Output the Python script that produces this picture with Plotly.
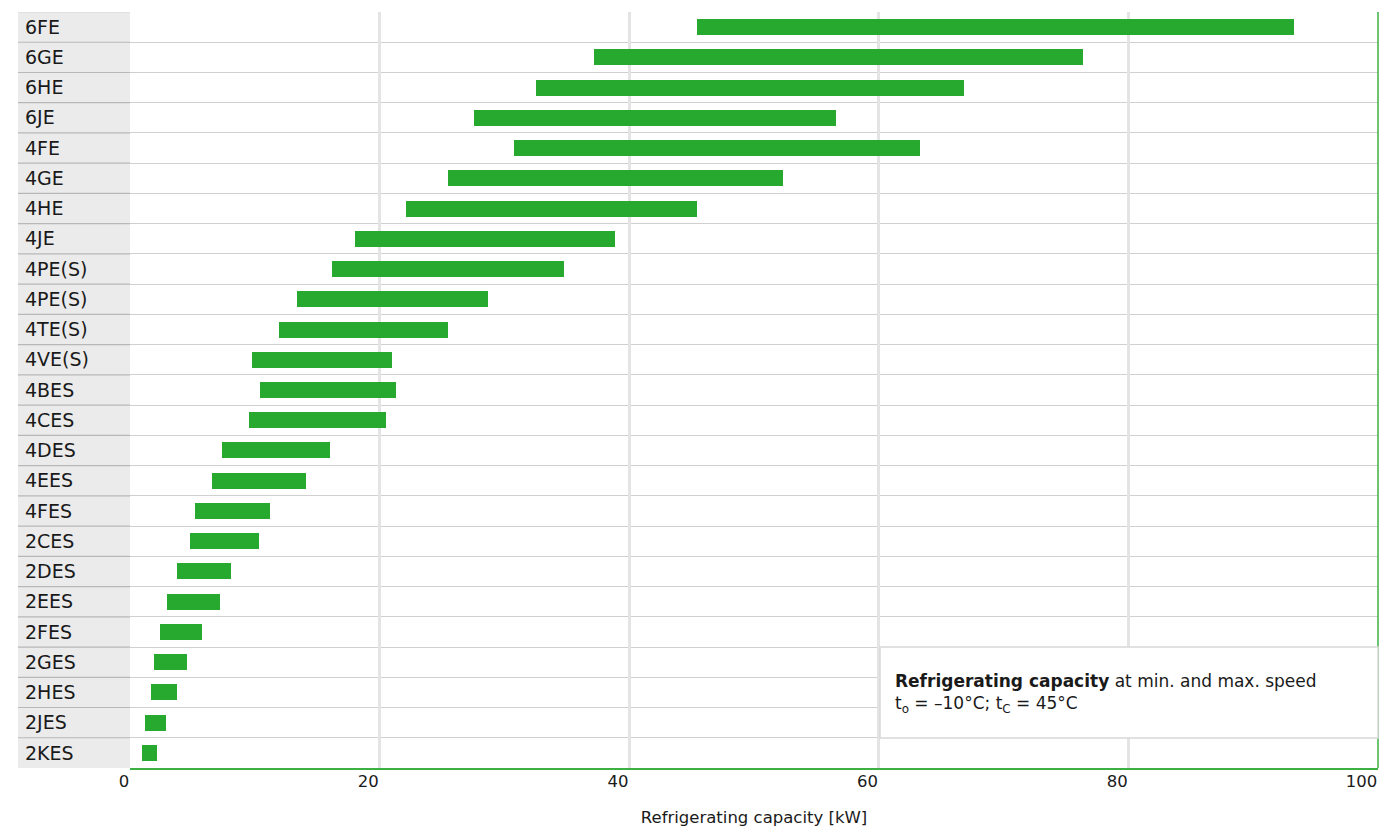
import plotly.graph_objects as go

models = ["6FE", "6GE", "6HE", "6JE", "4FE", "4GE", "4HE", "4JE", "4PE(S)", "4PE(S)",
          "4TE(S)", "4VE(S)", "4BES", "4CES", "4DES", "4EES", "4FES", "2CES", "2DES",
          "2EES", "2FES", "2GES", "2HES", "2JES", "2KES"]
cap_min = [45.4, 37.2, 32.5, 27.6, 30.8, 25.5, 22.1, 18.0, 16.2, 13.4,
           11.9, 9.75, 10.4, 9.5, 7.4, 6.6, 5.2, 4.8, 3.8,
           3.0, 2.4, 1.9, 1.7, 1.23, 0.94]
cap_max = [93.3, 76.4, 66.8, 56.6, 63.3, 52.3, 45.4, 38.9, 34.8, 28.7,
           25.5, 21.0, 21.3, 20.5, 16.0, 14.1, 11.2, 10.3, 8.1,
           7.2, 5.8, 4.6, 3.8, 2.9, 2.2]
x_ticks = [0, 20, 40, 60, 80, 100]

GREEN = "#27a82f"
FONT = "DejaVu Sans"

W, H = 1379, 828
ml, mr, mt, mb = 18, 1, 12, 60
plot_left_px = 130
dom0 = (plot_left_px - ml) / (W - ml - mr)

rows = list(range(len(models)))
widths = [b - a for a, b in zip(cap_min, cap_max)]

fig = go.Figure()
fig.add_trace(go.Bar(
    y=rows, x=widths, base=cap_min, orientation="h",
    width=0.53, marker=dict(color=GREEN, line=dict(width=0)),
    hovertemplate="%{customdata}: %{base}–%{x}<extra></extra>",
    customdata=models,
))

bounds = [i - 0.5 for i in range(len(models) + 1)]

shapes = []
shapes.append(dict(type="rect", xref="paper", yref="paper", x0=0, x1=dom0, y0=0, y1=1,
                   fillcolor="#ebebeb", line=dict(width=0), layer="below"))
for b in bounds[:-1]:
    shapes.append(dict(type="line", xref="paper", yref="y", x0=0, x1=dom0, y0=b, y1=b,
                       line=dict(color="#b8b8b8" if b > -0.5 else "#d8d8d8", width=1.2),
                       layer="below"))
shapes.append(dict(type="line", xref="paper", yref="paper", x0=1, x1=1, y0=0, y1=1,
                   line=dict(color="#3cb043", width=1.5), layer="above"))
bx0 = (880 - ml) / (W - ml - mr)
by0 = (H - mb - 738) / (H - mt - mb)
by1 = (H - mb - 647) / (H - mt - mb)
shapes.append(dict(type="rect", xref="paper", yref="paper", x0=bx0, x1=1, y0=by0, y1=by1,
                   fillcolor="white", line=dict(color="#d8d8d8", width=1.5), layer="above"))

fig.update_layout(
    width=W, height=H,
    margin=dict(l=ml, r=mr, t=mt, b=mb, pad=0, autoexpand=False),
    paper_bgcolor="white", plot_bgcolor="white",
    showlegend=False,
    font=dict(family=FONT, color="#1a1a1a"),
    bargap=0,
    shapes=shapes,
    xaxis=dict(
        domain=[dom0, 1], range=[0, 100], tickvals=x_ticks,
        showgrid=True, gridcolor="#e4e4e4", gridwidth=2.5,
        zeroline=False, showline=True, linecolor="#3cb043", linewidth=1.5,
        ticks="", tickfont=dict(size=16.5, family=FONT, color="#1a1a1a"),
        ticklabelposition="outside left", ticklabelstandoff=-3,
        automargin=False,
        title=dict(text="Refrigerating capacity [kW]", font=dict(size=16.5, family=FONT, color="#1a1a1a"),
                   standoff=22),
        fixedrange=True,
    ),
    yaxis=dict(
        anchor="free", position=0, side="right",
        range=[len(models) - 0.5, -0.5],
        tickmode="array", tickvals=rows, ticktext=models,
        ticks="", ticklabelstandoff=6, automargin=False,
        tickfont=dict(size=19, family=FONT, color="#1a1a1a"),
        showgrid=False, zeroline=False, showline=False,
        minor=dict(tickmode="array", tickvals=bounds, showgrid=True,
                   gridcolor="#d0d0d0", gridwidth=1.2, ticks=""),
        fixedrange=True,
    ),
    annotations=[dict(
        xref="paper", yref="paper",
        x=(893 - ml) / (W - ml - mr), y=(H - mb - 693) / (H - mt - mb),
        xanchor="left", yanchor="middle", align="left", showarrow=False,
        text="<b>Refrigerating capacity</b> at min. and max. speed<br>t<sub>o</sub> = –10°C; t<sub>C</sub> = 45°C",
        font=dict(size=17, family=FONT, color="#1a1a1a"),
    )],
)

fig.write_html("out.html", config={"displayModeBar": False},
               post_script="document.body.style.margin='0';document.body.style.overflow='hidden';")
